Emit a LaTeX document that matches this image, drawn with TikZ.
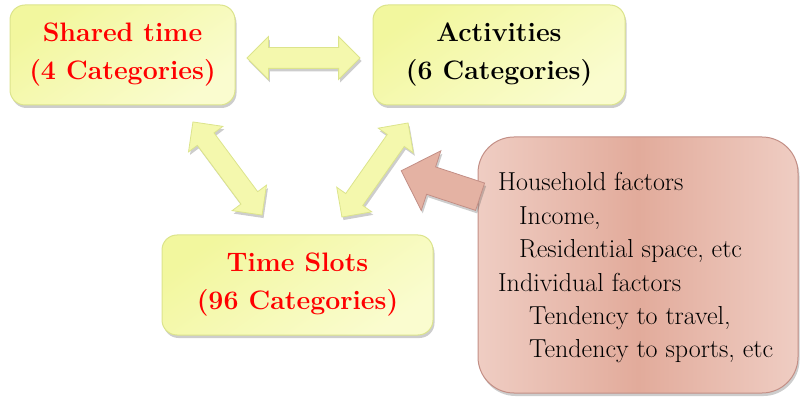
\documentclass[tikz,border=0pt]{standalone}
\usetikzlibrary{shapes.arrows,shadows}

\definecolor{boxfill}{HTML}{F2F79E}
\definecolor{boxfillhi}{HTML}{FAFCCF}
\definecolor{boxedge}{HTML}{DCE48C}
\definecolor{factorfill}{HTML}{E2AB9B}
\definecolor{factorhi}{HTML}{EFCDC3}
\definecolor{factoredge}{HTML}{C38F86}
\definecolor{labelred}{HTML}{FF0000}

\tikzset{
  softshadow/.style={drop shadow={shadow xshift=1.5pt, shadow yshift=-3pt, opacity=.28, fill=black!70}},
  catbox/.style={draw=boxedge, line width=1pt, rounded corners=15pt,
    shading=axis, top color=boxfill, bottom color=boxfillhi, shading angle=35,
    softshadow, inner sep=0pt, align=center,
    font=\rmfamily\bfseries\fontsize{26.7}{38}\selectfont},
  factorbox/.style={draw=factoredge, line width=1pt, rounded corners=36pt,
    left color=factorhi, right color=factorhi, middle color=factorfill,
    softshadow, inner sep=0pt},
  linkarrow/.style={double arrow, draw=boxedge, line width=0.8pt, fill=boxfill!85!white,
    inner sep=10pt, double arrow head extend=11pt, double arrow tip angle=90,
    minimum width=0pt, softshadow},
  pusharrow/.style={single arrow, draw=factoredge, line width=0.8pt, fill=factorfill!92!white,
    inner sep=14pt, single arrow head extend=17pt, single arrow tip angle=90,
    minimum width=0pt, softshadow},
  factortext/.style={inner sep=0pt, anchor=base west, font=\rmfamily\fontsize{26}{33.4}\selectfont}
}

\begin{document}
\begin{tikzpicture}[x=1pt, y=-1pt]
  \useasboundingbox (0,0) rectangle (801,398);

  % three category boxes
  \node[catbox, minimum width=225pt, minimum height=100pt, text=labelred]
    (shared) at (122.5,55) {Shared time\\(4 Categories)};
  \node[catbox, minimum width=252pt, minimum height=100pt, text=black]
    (activities) at (499,55) {Activities\\(6 Categories)};
  \node[catbox, minimum width=271pt, minimum height=100pt, text=labelred]
    (slots) at (297.5,285) {Time Slots\\(96 Categories)};

  % two-way links between the categories
  \node[linkarrow, minimum height=113pt] (linktop) at (303.5,58) {};
  \node[linkarrow, minimum height=116pt, rotate=-53.4] (linkleft) at (227.5,168.5) {};
  \node[linkarrow, minimum height=115pt, rotate=54.9] (linkright) at (375,170) {};

  % explanatory factors
  \node[factorbox, minimum width=320pt, minimum height=256pt] (factors) at (638,265) {};
  \node[pusharrow, minimum height=83pt, rotate=161.8] (push) at (447.5,186) {};

  \node[factortext] (factorlist) at (498,191) {%
    \begin{tabular}[t]{@{}l@{}}
      Household factors\\
      \hspace*{21pt}Income,\\
      \hspace*{21pt}Residential space, etc\\
      Individual factors\\
      \hspace*{31pt}Tendency to travel,\\
      \hspace*{31pt}Tendency to sports, etc
    \end{tabular}};
\end{tikzpicture}
\end{document}
